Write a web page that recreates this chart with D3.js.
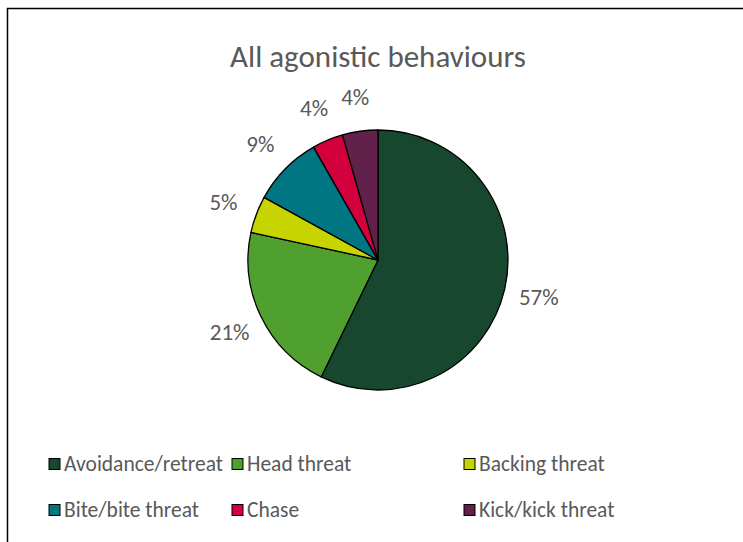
<!DOCTYPE html>
<html>
<head>
<meta charset="utf-8">
<script src="https://cdn.jsdelivr.net/npm/d3@7"></script>
<style>
  html, body { margin: 0; padding: 0; background: #fff; }
  svg { display: block; }
  text { font-family: Carlito, Calibri, Lato, "Open Sans", sans-serif; fill: #595959; }
</style>
</head>
<body>
<svg id="chart" width="743" height="542"></svg>
<script>
const title = "All agonistic behaviours";
const categories = ["Avoidance/retreat", "Head threat", "Backing threat", "Bite/bite threat", "Chase", "Kick/kick threat"];
const values = [57.2, 21.2, 4.6, 8.75, 3.85, 4.4];
const colors = ["#17472f", "#50a030", "#c8d400", "#007682", "#d2003c", "#62214a"];
const labels = ["57%", "21%", "5%", "9%", "4%", "4%"];

const svg = d3.select("#chart");
const W = 743, H = 542;

svg.append("rect").attr("x", 7.5).attr("y", 8.5).attr("width", W + 20).attr("height", H + 20)
  .attr("fill", "#fff").attr("stroke", "#000").attr("stroke-width", 1.5);

svg.append("text").attr("x", 378).attr("y", 67).attr("text-anchor", "middle")
  .attr("font-size", 31).text(title);

const cx = 378, cy = 260, r = 130;
const pie = d3.pie().sort(null).value(d => d)(values);
const arc = d3.arc().innerRadius(0).outerRadius(r);
const labelArc = d3.arc().innerRadius(165).outerRadius(165);

const g = svg.append("g").attr("transform", `translate(${cx},${cy})`);
g.selectAll("path").data(pie).join("path")
  .attr("d", arc).attr("fill", (d, i) => colors[i])
  .attr("stroke", "#000").attr("stroke-width", 1.3).attr("stroke-linejoin", "round");

g.selectAll("text").data(pie).join("text")
  .attr("transform", d => `translate(${labelArc.centroid(d)})`)
  .attr("text-anchor", "middle").attr("dominant-baseline", "central")
  .attr("font-size", 23).text((d, i) => labels[i]);

// legend
const colX = [49, 232, 464];
const rowY = [464, 510];
const leg = svg.append("g");
categories.forEach((c, i) => {
  const x = colX[i % 3], y = rowY[Math.floor(i / 3)];
  leg.append("rect").attr("x", x).attr("y", y - 5.5).attr("width", 11).attr("height", 11)
    .attr("fill", colors[i]).attr("stroke", "#000").attr("stroke-width", 1);
  leg.append("text").attr("x", x + 15).attr("y", y).attr("dominant-baseline", "central")
    .attr("font-size", 21.5).text(c);
});
</script>
</body>
</html>
